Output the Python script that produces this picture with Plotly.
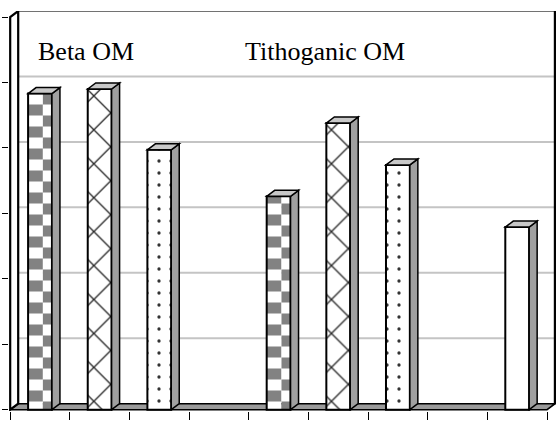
import plotly.graph_objects as go

# ---- data ----
slots = list(range(9))
checker_vals = [4.83, None, None, None, 3.26, None, None, None, None]
cross_vals   = [None, 4.90, None, None, None, 4.38, None, None, None]
dotted_vals  = [None, None, 3.97, None, None, None, 3.74, None, None]
plain_vals   = [None, None, None, None, None, None, None, None, 2.79]
group_labels = ["Beta OM", "Tithoganic OM"]
y_ticks = [0, 1, 2, 3, 4, 5, 6]

# ---- geometry (3D look) ----
BW = 0.4          # bar width in slot units
DX = 0.134        # depth offset x (data units)
DY = 0.092        # depth offset y (data units)
X0, X1 = -0.5, 8.5
YMAX = 6
LEFT_FRAC = 0.62  # share of the checker face taken by the left column

fig = go.Figure()

# checkerboard: two bars side by side with complementary stripe patterns
wl = BW * LEFT_FRAC
wr = BW - wl
fig.add_trace(go.Bar(
    x=[s - BW / 2 + wl / 2 for s in slots], y=checker_vals, width=wl,
    marker=dict(color='white', line=dict(width=0),
                pattern=dict(shape='-', fgcolor='#828282', bgcolor='white', fgopacity=1,
                             size=22, solidity=0.5)),
    showlegend=False, hoverinfo='skip'))
fig.add_trace(go.Bar(
    x=[s + BW / 2 - wr / 2 for s in slots], y=checker_vals, width=wr,
    marker=dict(color='#828282', line=dict(width=0),
                pattern=dict(shape='-', fgcolor='white', bgcolor='#828282', fgopacity=1,
                             size=22, solidity=0.5)),
    showlegend=False, hoverinfo='skip'))
fig.add_trace(go.Bar(
    x=slots, y=checker_vals, width=BW,
    marker=dict(color='rgba(0,0,0,0)', line=dict(color='black', width=2)),
    showlegend=False, hoverinfo='skip'))

series = [
    (cross_vals, dict(shape='x', fgcolor='#2a2a2a', bgcolor='white', fgopacity=1, size=24, solidity=0.11)),
    (dotted_vals, dict(shape='.', fgcolor='#333333', bgcolor='white', fgopacity=1, size=12, solidity=0.06)),
    (plain_vals, dict(shape='')),
]
for vals, pat in series:
    fig.add_trace(go.Bar(
        x=slots, y=vals, width=BW,
        marker=dict(color='white', pattern=pat, line=dict(color='black', width=2)),
        showlegend=False, hoverinfo='skip'))

all_series = [checker_vals, cross_vals, dotted_vals, plain_vals]

shapes = []
# back wall
shapes.append(dict(type='rect', xref='x', yref='y', x0=X0 + DX, x1=X1 + DX, y0=DY, y1=YMAX + DY,
                   line=dict(color='#444444', width=1.5), fillcolor='white', layer='below'))
# gridlines on back wall
for t in y_ticks[1:-1]:
    shapes.append(dict(type='line', xref='x', yref='y', x0=X0 + DX, x1=X1 + DX, y0=t + DY, y1=t + DY,
                       line=dict(color='#c4c4c4', width=2), layer='below'))
# floor
shapes.append(dict(type='path', xref='x', yref='y',
                   path=f"M {X0},0 L {X1},0 L {X1+DX},{DY} L {X0+DX},{DY} Z",
                   fillcolor='#9a9a9a', line=dict(color='black', width=1.5), layer='below'))
# left wall
shapes.append(dict(type='path', xref='x', yref='y',
                   path=f"M {X0},0 L {X0+DX},{DY} L {X0+DX},{YMAX+DY} L {X0},{YMAX} Z",
                   fillcolor='white', line=dict(color='black', width=2.2), layer='below'))
# right edge of back wall
shapes.append(dict(type='line', xref='x', yref='y', x0=X1 + DX, x1=X1 + DX, y0=DY, y1=YMAX + DY,
                   line=dict(color='black', width=2.5), layer='below'))

# side and top faces of bars
for vals in all_series:
    for s, v in zip(slots, vals):
        if v is None:
            continue
        xr = s + BW / 2
        xl = s - BW / 2
        shapes.append(dict(type='path', xref='x', yref='y',
                           path=f"M {xr},0 L {xr+DX},{DY} L {xr+DX},{v+DY} L {xr},{v} Z",
                           fillcolor='#a0a0a0', line=dict(color='black', width=1.5), layer='above'))
        shapes.append(dict(type='path', xref='x', yref='y',
                           path=f"M {xl},{v} L {xl+DX},{v+DY} L {xr+DX},{v+DY} L {xr},{v} Z",
                           fillcolor='#c8c8c8', line=dict(color='black', width=1.5), layer='above'))

label_font = dict(family='Liberation Serif', size=26, color='black')
annotations = [
    dict(text=group_labels[0], xref='x', yref='y', x=-0.07, y=5.48, xanchor='left', yanchor='middle',
         showarrow=False, font=label_font),
    dict(text=group_labels[1], xref='x', yref='y', x=3.40, y=5.48, xanchor='left', yanchor='middle',
         showarrow=False, font=label_font),
]

fig.update_layout(
    width=558, height=427,
    margin=dict(l=9, r=2, t=11, b=16),
    paper_bgcolor='white', plot_bgcolor='white',
    barmode='overlay',
    shapes=shapes, annotations=annotations,
    xaxis=dict(range=[X0 - 0.02, X1 + DX + 0.016], tickvals=[X0 + k for k in range(10)],
               showticklabels=False, ticks='outside', ticklen=8, tickcolor='black', tickwidth=1,
               showgrid=False, zeroline=False, showline=False),
    yaxis=dict(range=[-0.02, YMAX + DY], tickvals=y_ticks,
               showticklabels=False, ticks='outside', ticklen=6, tickcolor='black', tickwidth=1,
               showgrid=False, zeroline=False, showline=False),
)

fig.write_html("out.html")
